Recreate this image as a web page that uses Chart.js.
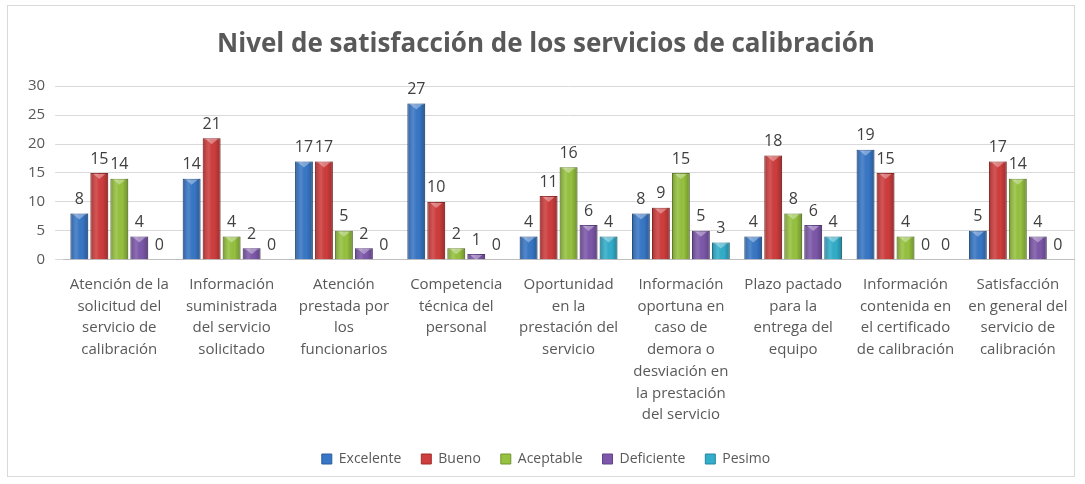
<!DOCTYPE html>
<html>
<head>
<meta charset="utf-8">
<script src="https://cdn.jsdelivr.net/npm/chart.js@4"></script>
<style>
  html, body { margin: 0; padding: 0; background: #fff; }
  #box { position: absolute; left: 7px; top: 5px; width: 1068px; height: 472px; border: 1px solid #d9d9d9; box-sizing: border-box; }
  #wrap { position: absolute; left: 0; top: 0; width: 1085px; height: 484px; }
</style>
</head>
<body>
<div id="box"></div>
<div id="wrap"><canvas id="myChart"></canvas></div>
<script>
const categories = [
  ["Atención de la", "solicitud del", "servicio de", "calibración"],
  ["Información", "suministrada", "del servicio", "solicitado"],
  ["Atención", "prestada por", "los", "funcionarios"],
  ["Competencia", "técnica del", "personal"],
  ["Oportunidad", "en la", "prestación del", "servicio"],
  ["Información", "oportuna en", "caso de", "demora o", "desviación en", "la prestación", "del servicio"],
  ["Plazo pactado", "para la", "entrega del", "equipo"],
  ["Información", "contenida en", "el certificado", "de calibración"],
  ["Satisfacción", "en general del", "servicio de", "calibración"]
];
const excelente = [8, 14, 17, 27, 4, 8, 4, 19, 5];
const bueno = [15, 21, 17, 10, 11, 9, 18, 15, 17];
const aceptable = [14, 4, 5, 2, 16, 15, 8, 4, 14];
const deficiente = [4, 2, 2, 1, 6, 5, 6, 0, 4];
const pesimo = [0, 0, 0, 0, 4, 3, 4, 0, 0];
const yTicks = [0, 5, 10, 15, 20, 25, 30];

const FONT = "'Open Sans', 'Noto Sans', sans-serif";

// bevel look of the Excel bars + value labels above each bar
const barStyle = {
  id: "barStyle",
  afterDatasetsDraw(chart) {
    const ctx = chart.ctx;
    ctx.save();
    chart.data.datasets.forEach((ds, i) => {
      chart.getDatasetMeta(i).data.forEach((bar) => {
        const h = bar.base - bar.y;
        if (h < 1) return;
        const l = bar.x - bar.width / 2, r = bar.x + bar.width / 2;
        const g = ctx.createLinearGradient(l, 0, r, 0);
        g.addColorStop(0, "rgba(0,0,0,0.22)");
        g.addColorStop(0.35, "rgba(255,255,255,0.12)");
        g.addColorStop(0.65, "rgba(0,0,0,0)");
        g.addColorStop(1, "rgba(0,0,0,0.25)");
        ctx.fillStyle = g;
        ctx.fillRect(l, bar.y, bar.width, h);
        if (h > 4) {
          ctx.fillStyle = "rgba(255,255,255,0.35)";
          ctx.beginPath();
          ctx.moveTo(bar.x - 6, bar.y + 1);
          ctx.lineTo(bar.x + 6, bar.y + 1);
          ctx.lineTo(bar.x, bar.y + 6);
          ctx.closePath();
          ctx.fill();
        }
      });
    });
    ctx.font = "16px " + FONT;
    ctx.fillStyle = "#404040";
    ctx.textAlign = "center";
    ctx.textBaseline = "bottom";
    chart.data.datasets.forEach((ds, i) => {
      chart.getDatasetMeta(i).data.forEach((bar, j) => {
        ctx.fillText(ds.data[j], bar.x, bar.y - 6);
      });
    });
    ctx.restore();
  }
};

const ctx = document.getElementById("myChart").getContext("2d");

const data = {
  labels: categories,
  datasets: [
    { label: "Excelente", backgroundColor: "#3877c6", borderColor: "#2c5d9c", data: excelente },
    { label: "Bueno", backgroundColor: "#cf3d3d", borderColor: "#a02d2d", data: bueno },
    { label: "Aceptable", backgroundColor: "#96c23f", borderColor: "#739533", data: aceptable },
    { label: "Deficiente", backgroundColor: "#7d58aa", borderColor: "#604488", data: deficiente },
    { label: "Pesimo", backgroundColor: "#32aecb", borderColor: "#25879f", data: pesimo }
  ]
};

const options = {
  responsive: true,
  maintainAspectRatio: false,
  animation: false,
  layout: { padding: { left: 18, right: 11, top: 8, bottom: 8 } },
  datasets: { bar: { borderWidth: 1, categoryPercentage: 0.89, barPercentage: 0.89 } },
  plugins: {
    title: {
      display: true,
      text: "Nivel de satisfacción de los servicios de calibración",
      color: "#595959",
      font: { family: FONT, size: 26, weight: "bold" },
      padding: { top: 21, bottom: 26 }
    },
    legend: {
      display: true,
      position: "bottom",
      labels: {
        color: "#595959",
        font: { family: FONT, size: 14 },
        boxWidth: 10,
        boxHeight: 10,
        padding: 20
      }
    },
    tooltip: { enabled: false }
  },
  scales: {
    x: {
      grid: { display: false },
      border: { color: "#bfbfbf" },
      ticks: {
        color: "#595959",
        font: { family: FONT, size: 15, lineHeight: 1.45 },
        maxRotation: 0,
        autoSkip: false,
        padding: 6
      }
    },
    y: {
      min: 0,
      max: 30,
      afterBuildTicks: (axis) => { axis.ticks = yTicks.map(v => ({ value: v })); },
      grid: { color: "#d9d9d9" },
      border: { display: false },
      ticks: {
        color: "#595959",
        font: { family: FONT, size: 15 },
        padding: 10
      }
    }
  }
};

new Chart(ctx, {
  type: "bar",
  data: data,
  options: options,
  plugins: [barStyle]
});
</script>
</body>
</html>
